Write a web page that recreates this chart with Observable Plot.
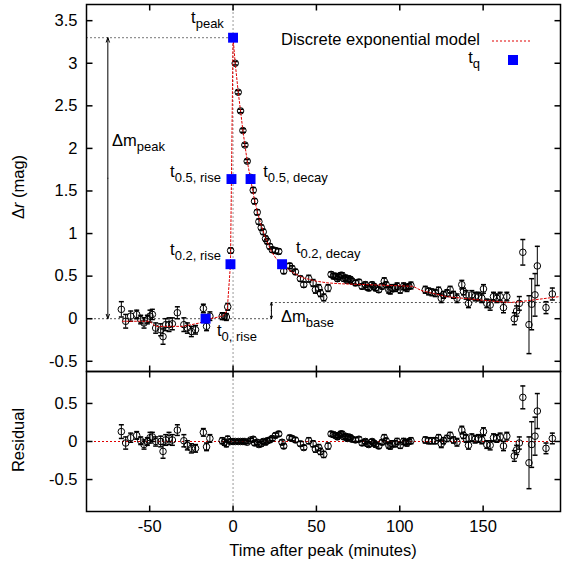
<!DOCTYPE html>
<html><head><meta charset="utf-8">
<script src="https://cdn.jsdelivr.net/npm/d3@7"></script>
<script src="https://cdn.jsdelivr.net/npm/@observablehq/plot@0.6"></script>
<style>
body{margin:0;background:#fff;}
#chart{position:relative;width:563px;height:562px;}
#chart svg{position:absolute;left:0;overflow:visible;}
</style></head><body><div id="chart"></div>
<script>
// ---- observations: time after peak (min), Δr (mag), error, residual ----
const times = [-67.0,-64.4,-61.4,-57.8,-55.4,-53.4,-51.4,-49.8,-48.4,-46.4,-43.4,-42.0,-40.4,-38.4,-36.4,-33.4,-29.5,-27.4,-25.0,-22.5,-17.8,-15.9,-13.9,-6.5,-5.2,-4.0,-3.2,-1.45,0.0,
 1.3,3.1,4.5,5.9,7.1,8.5,10.5,12.1,12.9,14.5,15.5,16.9,18.1,19.5,20.5,22.0,23.5,25.4,27.4,29.4,30.4,34.0,35.4,37.4,40.4,42.4,45.4,48.0,49.4,51.4,52.4,54.4,57.0,
 58.8,60.2,61.4,62.6,63.4,64.6,65.4,66.5,67.4,68.5,69.4,70.5,71.4,73.4,75.5,77.4,79.4,80.5,81.4,83.4,84.5,85.4,87.4,89.4,90.7,91.8,93.4,94.3,95.4,97.3,98.4,100.3,102.3,103.3,104.3,105.5,106.7,
 115.3,117.3,119.3,121.3,123.3,124.9,126.2,128.3,130.2,132.2,134.3,137.2,138.2,139.8,141.2,143.2,145.2,147.2,149.2,150.2,152.2,154.2,156.2,158.2,160.2,162.2,164.2,168.7,170.1,171.7,173.8,177.5,179.1,181.1,182.5,187.7,191.5];
const mags = [0.11,-0.03,0.03,0.05,-0.01,-0.05,-0.01,0.03,0.05,-0.11,-0.13,-0.21,-0.07,-0.07,-0.06,0.07,-0.07,-0.11,-0.15,-0.13,0.12,-0.09,0.03,0.03,0.03,0.02,0.14,0.80,3.30,
 3.00,2.66,2.44,2.21,2.04,1.85,1.66,1.51,1.38,1.25,1.14,1.07,1.02,0.94,0.91,0.85,0.81,0.80,0.79,0.63,0.56,0.62,0.59,0.55,0.47,0.40,0.47,0.42,0.34,0.36,0.30,0.25,0.36,
 0.52,0.50,0.50,0.47,0.49,0.51,0.51,0.47,0.48,0.45,0.47,0.46,0.44,0.42,0.43,0.38,0.40,0.37,0.36,0.40,0.38,0.36,0.34,0.38,0.44,0.40,0.34,0.33,0.36,0.36,0.38,0.34,0.38,0.37,0.36,0.38,0.39,
 0.34,0.32,0.31,0.30,0.33,0.24,0.28,0.30,0.34,0.28,0.24,0.40,0.32,0.28,0.18,0.28,0.26,0.26,0.24,0.35,0.18,0.16,0.26,0.24,0.26,0.13,0.26,0.00,0.09,0.18,0.78,-0.07,0.17,0.28,0.62,0.13,0.29];
const errs = [0.09,0.08,0.06,0.05,0.05,0.06,0.05,0.07,0.06,0.06,0.07,0.09,0.07,0.08,0.07,0.07,0.08,0.06,0.06,0.05,0.05,0.05,0.05,0.04,0.04,0.04,0.04,0.03,0.02,
 0.02,0.02,0.02,0.02,0.02,0.02,0.02,0.03,0.03,0.03,0.03,0.03,0.03,0.03,0.03,0.03,0.03,0.03,0.03,0.03,0.03,0.03,0.03,0.03,0.03,0.03,0.04,0.04,0.04,0.04,0.04,0.04,0.04,
 0.03,0.03,0.03,0.03,0.03,0.03,0.03,0.03,0.03,0.03,0.03,0.03,0.03,0.03,0.03,0.03,0.03,0.03,0.03,0.03,0.03,0.03,0.03,0.03,0.04,0.03,0.04,0.04,0.04,0.04,0.04,0.04,0.04,0.03,0.04,0.03,0.04,
 0.04,0.04,0.04,0.04,0.04,0.05,0.04,0.04,0.04,0.04,0.05,0.05,0.04,0.05,0.05,0.05,0.05,0.05,0.05,0.05,0.05,0.06,0.05,0.05,0.05,0.06,0.05,0.07,0.06,0.08,0.15,0.34,0.30,0.25,0.23,0.07,0.07];
const resids = [0.13,-0.02,0.05,0.08,0.01,-0.04,0.00,0.05,0.06,0.00,0.00,-0.13,0.02,0.04,0.02,0.15,0.01,-0.05,-0.09,-0.09,0.12,-0.07,0.04,0.01,-0.01,-0.03,0.03,0.00,0.00,
 0.00,0.00,0.00,0.00,0.00,-0.01,0.02,0.03,-0.02,-0.01,-0.04,-0.03,0.00,-0.01,0.01,0.02,0.04,0.08,0.10,-0.01,-0.06,0.05,0.04,0.02,-0.03,-0.08,0.01,-0.03,-0.10,-0.08,-0.13,-0.17,-0.06,
 0.10,0.09,0.08,0.06,0.08,0.10,0.10,0.06,0.07,0.04,0.06,0.05,0.03,0.02,0.03,-0.02,0.00,-0.03,-0.04,0.00,-0.02,-0.04,-0.06,-0.01,0.05,0.01,-0.05,-0.06,-0.03,-0.03,0.00,-0.05,0.00,-0.01,-0.02,0.00,0.01,
 0.02,0.01,0.01,0.01,0.05,-0.03,0.01,0.04,0.08,0.02,-0.01,0.15,0.08,0.04,-0.05,0.05,0.03,0.04,0.02,0.13,-0.04,-0.05,0.05,0.04,0.06,-0.06,0.07,-0.19,-0.11,-0.02,0.58,-0.28,-0.04,0.07,0.40,-0.09,0.04];

// ---- discrete exponential model ----
const modelTimes = [-66.3,-50,-46.5,-30,-20,-16.5,-6,-3.5,-1.55,-0.95,0,1.3,3.1,4.5,5.9,7.1,8.5,10.5,12.5,14.5,16.5,18.5,20.5,23,26,29.4,33,37,42,50,57,65,80,95,108,113,128,148,166,172,196];
const modelMags  = [-0.03,-0.03,-0.09,-0.09,-0.05,-0.01,0.03,0.10,0.64,1.64,3.30,3.00,2.66,2.44,2.21,2.04,1.85,1.64,1.43,1.26,1.12,1.00,0.90,0.79,0.70,0.64,0.58,0.53,0.48,0.44,0.42,0.41,0.40,0.39,0.38,0.33,0.26,0.22,0.19,0.20,0.26];

// ---- characteristic times t_q ----
const tqNames = ["peak","0.5, rise","0.5, decay","0.2, rise","0.2, decay","0, rise"];
const tqTimes = [0,-0.95,10.5,-1.55,29.4,-16.5];
const tqMags  = [3.30,1.64,1.64,0.64,0.64,0.0];
const dmPeak = 3.30, dmBase = 0.19;
const dmPeakTime = -75.1, dmBaseTime = 23.0;

// ---- ticks ----
const xTicks = [-50,0,50,100,150];
const yTicksTop = [-0.5,0,0.5,1,1.5,2,2.5,3,3.5];
const yTicksRes = [-0.5,0,0.5];

// ---- label anchors (data coords) ----
const tqLabelTimes = [-5.2,-6.95,18.4,-6.95,38.0,-9.4];
const tqLabelMags  = [3.465,1.656,1.656,0.74,0.763,-0.21];
const tqLabelAnchor = ["end","end","start","end","start","start"];

const xDomain = [-87.9, 196.4];
const yTop = [-0.62, 3.69];
const yRes = [-0.92, 0.92];
const FONT = "'Liberation Sans', Arial, Helvetica, sans-serif";

const rows = times.map((t,i)=>({t, m: mags[i], e: errs[i], r: resids[i]}));
const model = modelTimes.map((t,i)=>({t, m: modelMags[i]}));
const tq = tqTimes.map((t,i)=>({t, m: tqMags[i], name: tqNames[i]}));

const sym = f => ({draw(c){ f(c); }});
const cap = sym(c=>{c.moveTo(-2.5,0);c.lineTo(2.5,0);});
const tkR = sym(c=>{c.moveTo(0,0);c.lineTo(6,0);});
const tkL = sym(c=>{c.moveTo(0,0);c.lineTo(-6,0);});
const tkU = sym(c=>{c.moveTo(0,0);c.lineTo(0,-6);});
const tkD = sym(c=>{c.moveTo(0,0);c.lineTo(0,6);});

function frameTicks(yTicks, yDom) {
  return [
    Plot.dot(yTicks, {x: () => xDomain[0], y: d => d, symbol: tkR, stroke: "black", fill: "none"}),
    Plot.dot(yTicks, {x: () => xDomain[1], y: d => d, symbol: tkL, stroke: "black", fill: "none"}),
    Plot.dot(xTicks, {x: d => d, y: () => yDom[0], symbol: tkU, stroke: "black", fill: "none"}),
    Plot.dot(xTicks, {x: d => d, y: () => yDom[1], symbol: tkD, stroke: "black", fill: "none"})
  ];
}
function errorMarks(yKey) {
  return [
    Plot.ruleX(rows, {x: "t", y1: d => d[yKey] - d.e, y2: d => d[yKey] + d.e, stroke: "black", strokeWidth: 1}),
    Plot.dot(rows, {x: "t", y: d => d[yKey] - d.e, symbol: cap, stroke: "black", fill: "none"}),
    Plot.dot(rows, {x: "t", y: d => d[yKey] + d.e, symbol: cap, stroke: "black", fill: "none"}),
    Plot.dot(rows, {x: "t", y: yKey, r: 3.3, stroke: "black", fill: "none", strokeWidth: 1})
  ];
}
const plotStyle = {fontFamily: FONT, fontSize: "16.5px", background: "transparent", overflow: "visible", color: "black"};

const topPlot = Plot.plot({
  width: 563, height: 372, marginLeft: 86, marginRight: 3, marginTop: 4, marginBottom: 1,
  style: plotStyle,
  x: {domain: xDomain, axis: null, label: null},
  y: {domain: yTop, label: null},
  marks: [
    Plot.axisY(yTicksTop, {tickSize: 0, tickPadding: 9, tickFormat: d => String(d), fontSize: 16.5, label: null}),
    Plot.ruleX([0], {stroke: "#999", strokeDasharray: "2,2", strokeWidth: 1}),
    Plot.ruleY([{y: dmPeak, x1: xDomain[0], x2: 0}], {y: "y", x1: "x1", x2: "x2", stroke: "#777", strokeDasharray: "2,2"}),
    Plot.ruleY([{y: 0, x1: xDomain[0], x2: dmBaseTime}], {y: "y", x1: "x1", x2: "x2", stroke: "#555", strokeDasharray: "2,2"}),
    Plot.ruleY([{y: dmBase, x1: dmBaseTime, x2: xDomain[1]}], {y: "y", x1: "x1", x2: "x2", stroke: "#555", strokeDasharray: "2,2"}),
    Plot.arrow([{x: dmPeakTime, y1: dmPeak/2, y2: dmPeak}, {x: dmPeakTime, y1: dmPeak/2, y2: 0}],
      {x1: "x", x2: "x", y1: "y1", y2: "y2", stroke: "black", strokeWidth: 1, headLength: 7, headAngle: 40}),
    Plot.arrow([{x: dmBaseTime, y1: dmBase/2, y2: dmBase}, {x: dmBaseTime, y1: dmBase/2, y2: 0}],
      {x1: "x", x2: "x", y1: "y1", y2: "y2", stroke: "black", strokeWidth: 1, headLength: 6, headAngle: 40}),
    ...errorMarks("m"),
    Plot.line(model, {x: "t", y: "m", stroke: "#e00000", strokeDasharray: "2,2", strokeWidth: 1}),
    Plot.dot(tq, {x: "t", y: "m", symbol: "square", r: 5.6, fill: "#0000ff", stroke: null}),
    ...frameTicks(yTicksTop, yTop),
    Plot.frame({stroke: "black", strokeWidth: 1.5})
  ]
});

const bottomPlot = Plot.plot({
  width: 563, height: 191, marginLeft: 86, marginRight: 3, marginTop: 0, marginBottom: 51,
  style: plotStyle,
  x: {domain: xDomain, label: null},
  y: {domain: yRes, label: null},
  marks: [
    Plot.axisY(yTicksRes, {tickSize: 0, tickPadding: 9, tickFormat: d => String(d), fontSize: 16.5, label: null}),
    Plot.axisX(xTicks, {tickSize: 0, tickPadding: 9, tickFormat: d => String(d), fontSize: 16.5, label: null}),
    Plot.ruleX([0], {stroke: "#999", strokeDasharray: "2,2", strokeWidth: 1}),
    Plot.ruleY([0], {stroke: "#e00000", strokeDasharray: "2,2", strokeWidth: 1}),
    ...errorMarks("r"),
    ...frameTicks(yTicksRes, yRes),
    Plot.frame({stroke: "black", strokeWidth: 1.5})
  ]
});

const chart = document.getElementById("chart");
topPlot.style.top = "0px";
bottomPlot.style.top = "371px";
chart.appendChild(topPlot);
chart.appendChild(bottomPlot);

function subText(svg, x, y, main, sub, anchor) {
  const t = d3.select(svg).append("text")
    .attr("x", x).attr("y", y).attr("text-anchor", anchor)
    .attr("font-family", FONT).attr("font-size", 16.5).attr("fill", "black");
  t.append("tspan").text(main);
  t.append("tspan").attr("dy", 5).attr("font-size", 13).text(sub);
  return t;
}
const sx = topPlot.scale("x"), sy = topPlot.scale("y");
tq.forEach((d, i) => subText(topPlot, sx.apply(tqLabelTimes[i]), sy.apply(tqLabelMags[i]), "t", d.name, tqLabelAnchor[i]));
subText(topPlot, sx.apply(-72.3), sy.apply(2.02), "\u0394m", "peak", "start");
subText(topPlot, sx.apply(29.0), sy.apply(-0.047), "\u0394m", "base", "start");

// legend
const g = d3.select(topPlot);
g.append("text").attr("x", 480).attr("y", 45).attr("text-anchor", "end")
  .attr("font-family", FONT).attr("font-size", 16.5).text("Discrete exponential model");
g.append("line").attr("x1", 492).attr("x2", 530).attr("y1", 41).attr("y2", 41)
  .attr("stroke", "#e00000").attr("stroke-dasharray", "2,2");
subText(topPlot, 480, 63, "t", "q", "end");
g.append("rect").attr("x", 508).attr("y", 55).attr("width", 10).attr("height", 10).attr("fill", "#0000ff");

// axis titles
const yl = g.append("text").attr("transform", "translate(24,187) rotate(-90)").attr("text-anchor", "middle")
  .attr("font-family", FONT).attr("font-size", 16.5);
yl.append("tspan").text("\u0394");
yl.append("tspan").attr("font-style", "italic").text("r");
yl.append("tspan").text(" (mag)");
const gb = d3.select(bottomPlot);
gb.append("text").attr("transform", "translate(24,69) rotate(-90)").attr("text-anchor", "middle")
  .attr("font-family", FONT).attr("font-size", 16.5).text("Residual");
gb.append("text").attr("x", 323).attr("y", 185).attr("text-anchor", "middle")
  .attr("font-family", FONT).attr("font-size", 16.5).text("Time after peak (minutes)");
</script></body></html>
